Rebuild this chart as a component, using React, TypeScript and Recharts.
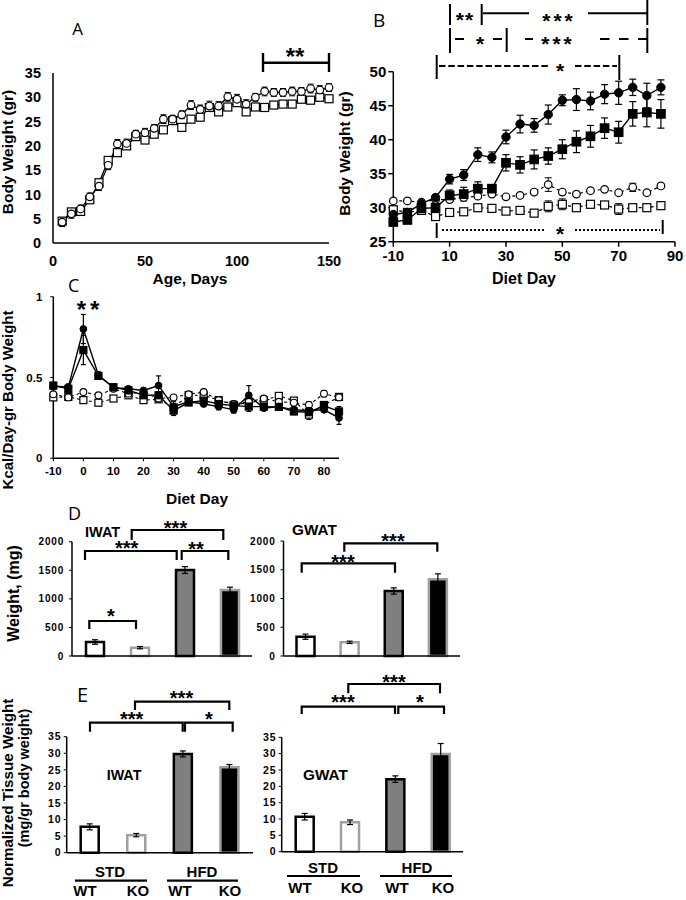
import React from 'react';
import { LineChart, Line, XAxis, YAxis, ErrorBar, BarChart, Bar, Cell } from 'recharts';

const SANS = '"Liberation Sans", Arial, sans-serif';
const LETTER = '"Open Sans", "Liberation Sans", sans-serif';

// ---------------- Panel A: body weight vs age (STD diet) ----------------
const ageDays = [5, 10, 15, 20, 25, 30, 35, 40, 45, 50, 55, 60, 65, 70, 75, 80, 85, 90, 95, 100, 105, 110, 115, 120, 125, 130, 135, 140, 145, 150];
const ageWT = [4.3, 6.0, 7.0, 9.5, 11.7, 16.0, 20.4, 20.5, 22.4, 22.7, 23.6, 25.5, 25.5, 26.4, 28.4, 27.5, 28.2, 28.2, 30.1, 29.6, 28.6, 30.0, 31.2, 31.0, 31.0, 31.2, 31.2, 31.8, 31.5, 32.0];
const ageWTErr = [0.9, 0.9, 0.8, 0.8, 0.9, 0.9, 0.9, 0.9, 0.8, 0.9, 0.8, 0.9, 0.8, 0.8, 0.9, 0.9, 1.0, 0.9, 0.9, 1.0, 0.9, 0.8, 0.9, 0.8, 0.8, 0.9, 0.8, 0.9, 0.9, 0.8];
const ageKO = [4.5, 6.4, 6.5, 8.9, 12.4, 17.0, 18.6, 20.0, 21.9, 21.2, 22.4, 23.3, 25.2, 23.8, 25.5, 25.9, 27.9, 27.0, 28.0, 28.9, 27.0, 28.0, 27.9, 28.4, 28.6, 28.6, 29.6, 29.4, 30.0, 29.7];
const ageKOErr = [0.6, 0.5, 0.5, 0.5, 0.6, 0.6, 0.6, 0.6, 0.5, 0.5, 0.5, 0.5, 0.5, 0.5, 0.5, 0.5, 0.6, 0.5, 0.5, 0.6, 0.5, 0.4, 0.4, 0.4, 0.4, 0.4, 0.4, 0.4, 0.4, 0.4];
const aTicksX = [0, 50, 100, 150];
const aTicksY = [0, 5, 10, 15, 20, 25, 30, 35];

// ---------------- Panel B: body weight vs diet day ----------------
const dietDays = [-10, -5, 0, 5, 10, 15, 20, 25, 30, 35, 40, 45, 50, 55, 60, 65, 70, 75, 80, 85];
const bwHfdWT = [29.0, 29.3, 30.6, 31.5, 34.2, 34.8, 37.8, 37.4, 40.4, 42.3, 42.1, 43.7, 45.8, 45.9, 45.7, 46.7, 46.9, 47.7, 46.5, 47.7];
const bwHfdWTErr = [0.5, 0.5, 0.5, 0.4, 0.7, 0.8, 1.0, 0.8, 1.0, 1.3, 1.0, 1.4, 0.8, 1.6, 1.3, 1.4, 1.7, 1.2, 1.8, 1.1];
const bwHfdKO = [27.9, 28.2, 29.9, 30.0, 31.8, 32.0, 32.8, 32.8, 36.6, 36.3, 37.1, 37.6, 38.6, 39.7, 40.5, 41.7, 41.1, 43.8, 44.0, 43.8];
const bwHfdKOErr = [0.4, 0.5, 0.5, 0.4, 0.8, 1.0, 1.0, 0.5, 1.2, 1.2, 1.4, 1.2, 1.4, 1.6, 1.6, 1.5, 1.6, 1.8, 2.1, 2.1];
const bwStdWT = [31.0, 31.0, 30.8, 31.2, 31.2, 31.5, 31.7, 32.0, 31.6, 31.8, 32.3, 33.4, 32.3, 32.0, 32.5, 32.7, 32.2, 33.0, 32.2, 33.2];
const bwStdWTErr = [0.3, 0.3, 0.3, 0.3, 0.3, 0.3, 0.3, 0.3, 0.3, 0.3, 0.3, 1.0, 0.3, 0.3, 0.3, 0.3, 0.3, 0.6, 0.3, 0.3];
const bwStdKO = [29.7, 29.3, 29.6, 28.7, 29.3, 29.4, 30.0, 29.9, 29.5, 29.6, 29.2, 30.2, 30.5, 30.0, 30.5, 30.4, 29.8, 30.0, 30.0, 30.3];
const bwStdKOErr = [0.4, 0.4, 0.4, 0.4, 0.4, 0.4, 0.4, 0.5, 0.4, 0.4, 0.4, 0.8, 0.8, 0.4, 0.4, 0.4, 0.8, 0.4, 0.4, 0.4];
const bTicksX = [-10, 10, 30, 50, 70, 90];
const bTicksY = [25, 30, 35, 40, 45, 50];

// ---------------- Panel C: kcal / day / gr body weight ----------------
const kcalHfdWT = [0.447, 0.44, 0.80, 0.515, 0.437, 0.43, 0.42, 0.45, 0.32, 0.35, 0.336, 0.32, 0.30, 0.39, 0.31, 0.32, 0.30, 0.295, 0.30, 0.25];
const kcalHfdWTErr = [0.02, 0.02, 0.09, 0.02, 0.01, 0.01, 0.01, 0.06, 0.03, 0.01, 0.01, 0.02, 0.02, 0.06, 0.01, 0.01, 0.02, 0.02, 0.01, 0.04];
const kcalHfdKO = [0.45, 0.43, 0.67, 0.51, 0.44, 0.42, 0.39, 0.39, 0.295, 0.345, 0.357, 0.336, 0.326, 0.32, 0.32, 0.318, 0.29, 0.285, 0.325, 0.29];
const kcalHfdKOErr = [0.02, 0.02, 0.09, 0.02, 0.01, 0.01, 0.01, 0.02, 0.03, 0.01, 0.01, 0.02, 0.02, 0.03, 0.01, 0.01, 0.02, 0.02, 0.01, 0.03];
const kcalStdWT = [0.396, 0.377, 0.41, 0.39, 0.43, 0.40, 0.41, 0.37, 0.377, 0.396, 0.41, 0.36, 0.336, 0.35, 0.37, 0.35, 0.344, 0.33, 0.40, 0.377];
const kcalStdWTErr = [0.01, 0.02, 0.01, 0.01, 0.01, 0.01, 0.01, 0.02, 0.01, 0.01, 0.01, 0.01, 0.02, 0.01, 0.01, 0.01, 0.01, 0.02, 0.02, 0.02];
const kcalStdKO = [0.377, 0.38, 0.36, 0.344, 0.37, 0.39, 0.36, 0.365, 0.315, 0.39, 0.39, 0.36, 0.33, 0.344, 0.36, 0.386, 0.357, 0.27, 0.33, 0.38];
const kcalStdKOErr = [0.01, 0.02, 0.01, 0.01, 0.01, 0.01, 0.01, 0.01, 0.02, 0.01, 0.01, 0.01, 0.01, 0.02, 0.01, 0.01, 0.01, 0.03, 0.01, 0.02];
const cTicksX = [-10, 0, 10, 20, 30, 40, 50, 60, 70, 80];
const cTicksY = [0, 0.5, 1];

// ---------------- Panels D / E: fat pads ----------------
const groups = ['STD WT', 'STD KO', 'HFD WT', 'HFD KO'];
const iwatMg = [245, 146, 1504, 1154];
const iwatMgErr = [40, 20, 60, 50];
const gwatMg = [336, 238, 1131, 1334];
const gwatMgErr = [45, 20, 55, 95];
const iwatNorm = [7.8, 5.3, 29.8, 25.8];
const iwatNormErr = [0.9, 0.5, 0.9, 0.8];
const gwatNorm = [10.7, 9.0, 22.2, 29.9];
const gwatNormErr = [1.0, 0.7, 1.0, 3.2];
const dTicksY = [0, 500, 1000, 1500, 2000];
const eTicksY = [0, 5, 10, 15, 20, 25, 30, 35];

const barFill = ['#ffffff', '#ffffff', '#7f7f7f', '#000000'];
const barStroke = ['#000000', '#a0a0a0', '#000000', '#a0a0a0'];

const axisLine = { stroke: '#000', strokeWidth: 1.5 };
const tickFont = (size: number, extra: any = {}) => ({ fontFamily: SANS, fontWeight: 700, fontSize: size, fill: '#000', ...extra });

const openCircle = { r: 3.8, fill: '#fff', stroke: '#000', strokeWidth: 1.2, strokeDasharray: 'none' };
const filledCircle = { r: 4.2, fill: '#000', stroke: '#000', strokeWidth: 1, strokeDasharray: 'none' };
const smallFilledCircle = { r: 3.4, fill: '#000', stroke: '#000', strokeWidth: 1, strokeDasharray: 'none' };
const smallOpenCircle = { r: 3.4, fill: '#fff', stroke: '#000', strokeWidth: 1.1, strokeDasharray: 'none' };

const square = (fill: string, size: number) => (props: any) => {
  const { cx, cy, index } = props;
  if (cx == null || cy == null) return <g key={`e-${index}`} />;
  return (
    <rect key={`sq-${index}`} x={cx - size / 2} y={cy - size / 2} width={size} height={size}
      fill={fill} stroke="#000" strokeWidth={1.2} strokeDasharray="none" />
  );
};

const aRows = ageDays.map((d, i) => ({ day: d, wt: ageWT[i], wtErr: ageWTErr[i], ko: ageKO[i], koErr: ageKOErr[i] }));
const bRows = dietDays.map((d, i) => ({
  day: d, hwt: bwHfdWT[i], hwtE: bwHfdWTErr[i], hko: bwHfdKO[i], hkoE: bwHfdKOErr[i],
  swt: bwStdWT[i], swtE: bwStdWTErr[i], sko: bwStdKO[i], skoE: bwStdKOErr[i],
}));
const cRows = dietDays.map((d, i) => ({
  day: d, hwt: kcalHfdWT[i], hwtE: kcalHfdWTErr[i], hko: kcalHfdKO[i], hkoE: kcalHfdKOErr[i],
  swt: kcalStdWT[i], swtE: kcalStdWTErr[i], sko: kcalStdKO[i], skoE: kcalStdKOErr[i],
}));

function Abs({ left, top, children }: any) {
  return <div style={{ position: 'absolute', left, top }}>{children}</div>;
}

function BarPanel({ left, top, width, height, margin, yWidth, values, errors, domainMax, ticks, fontSize, tickMargin, letterSpacing }: any) {
  const rows = groups.map((g, i) => ({ group: g, value: values[i], err: errors[i] }));
  return (
    <Abs left={left} top={top}>
      <BarChart width={width} height={height} data={rows} margin={margin}>
        <XAxis dataKey="group" type="category" tick={false} tickLine={false} axisLine={axisLine} height={10} />
        <YAxis type="number" domain={[0, domainMax]} ticks={ticks} width={yWidth} interval={0}
          tickSize={3} tickMargin={tickMargin} axisLine={axisLine} tickLine={{ stroke: '#000' }}
          tick={tickFont(fontSize, { letterSpacing })} />
        <Bar dataKey="value" barSize={18} isAnimationActive={false}>
          {rows.map((r, i) => (
            <Cell key={r.group} fill={barFill[i]} stroke={barStroke[i]} strokeWidth={2.5} />
          ))}
          <ErrorBar dataKey="err" width={3} stroke="#000" strokeWidth={1.2} direction="y" />
        </Bar>
      </BarChart>
    </Abs>
  );
}

// text helpers (overlay)
function Txt({ x, y, size = 15, anchor = 'middle', rotate = false, font = SANS, weight = 700, children }: any) {
  return (
    <text x={x} y={y} fontFamily={font} fontWeight={weight} fontSize={size} textAnchor={anchor}
      fill="#000" transform={rotate ? `rotate(-90 ${x} ${y})` : undefined}>{children}</text>
  );
}
function Stars({ cx, cy, size = 20, spacing = 0, children }: any) {
  return (
    <text x={cx} y={cy + 0.57 * size} fontFamily={SANS} fontWeight={700} fontSize={size}
      textAnchor="middle" letterSpacing={spacing} fill="#000">{children}</text>
  );
}
function Bracket({ x1, x2, y, h }: any) {
  return <path d={`M${x1} ${y + h} V${y} H${x2} V${y + h}`} fill="none" stroke="#000" strokeWidth={2.2} />;
}
function Seg({ x1, x2, y1, y2, dash, w = 2 }: any) {
  return <line x1={x1} x2={x2} y1={y1} y2={y2} stroke="#000" strokeWidth={w} strokeDasharray={dash} />;
}

export default function App() {
  return (
    <div style={{ position: 'absolute', left: 0, top: 0, width: 686, height: 900, background: '#fff', overflow: 'hidden' }}>
      {/* Panel A */}
      <Abs left={0} top={40}>
        <LineChart width={345} height={240} data={aRows} margin={{ top: 33, right: 16, bottom: 7, left: 0 }}>
          <XAxis dataKey="day" type="number" domain={[0, 150]} ticks={aTicksX} interval={0} height={30}
            tickLine={false} tickSize={6} tickMargin={7} axisLine={axisLine} tick={tickFont(14.5)} />
          <YAxis type="number" domain={[0, 35]} ticks={aTicksY} interval={0} width={53}
            tickLine={false} tickSize={6} tickMargin={6} axisLine={axisLine} tick={tickFont(14.5)} />
          <Line dataKey="ko" stroke="#000" strokeWidth={1.3} dot={square('#fff', 8)} activeDot={false} isAnimationActive={false}>
            <ErrorBar dataKey="koErr" width={3} stroke="#000" strokeWidth={1} direction="y" />
          </Line>
          <Line dataKey="wt" stroke="#000" strokeWidth={1.3} dot={openCircle} activeDot={false} isAnimationActive={false}>
            <ErrorBar dataKey="wtErr" width={3} stroke="#000" strokeWidth={1} direction="y" />
          </Line>
        </LineChart>
      </Abs>

      {/* Panel B */}
      <Abs left={340} top={0}>
        <LineChart width={346} height={290} data={bRows} margin={{ top: 71.7, right: 11, bottom: 18.3, left: 0 }}>
          <XAxis dataKey="day" type="number" domain={[-10, 90]} ticks={bTicksX} interval={0} height={30}
            tickSize={5} tickMargin={4} axisLine={axisLine} tickLine={{ stroke: '#000', strokeWidth: 1.5 }} tick={tickFont(15)} />
          <YAxis type="number" domain={[25, 50]} ticks={bTicksY} interval={0} width={53.3}
            tickSize={5} tickMargin={2} axisLine={axisLine} tickLine={{ stroke: '#000', strokeWidth: 1.5 }} tick={tickFont(15)} />
          <Line dataKey="sko" stroke="#000" strokeWidth={1.2} strokeDasharray="3 3" dot={square('#fff', 8)} activeDot={false} isAnimationActive={false}>
            <ErrorBar dataKey="skoE" width={3.5} stroke="#000" strokeWidth={1} direction="y" />
          </Line>
          <Line dataKey="swt" stroke="#000" strokeWidth={1.2} strokeDasharray="3 3" dot={openCircle} activeDot={false} isAnimationActive={false}>
            <ErrorBar dataKey="swtE" width={3.5} stroke="#000" strokeWidth={1} direction="y" />
          </Line>
          <Line dataKey="hko" stroke="#000" strokeWidth={1.4} dot={square('#000', 8.5)} activeDot={false} isAnimationActive={false}>
            <ErrorBar dataKey="hkoE" width={3.5} stroke="#000" strokeWidth={1.2} direction="y" />
          </Line>
          <Line dataKey="hwt" stroke="#000" strokeWidth={1.4} dot={filledCircle} activeDot={false} isAnimationActive={false}>
            <ErrorBar dataKey="hwtE" width={3.5} stroke="#000" strokeWidth={1.2} direction="y" />
          </Line>
        </LineChart>
      </Abs>

      {/* Panel C */}
      <Abs left={0} top={280}>
        <LineChart width={345} height={200} data={cRows} margin={{ top: 16.7, right: 6, bottom: 1.7, left: 0 }}>
          <XAxis dataKey="day" type="number" domain={[-10, 85]} ticks={cTicksX} interval={0} height={20}
            tickSize={3} tickMargin={6} axisLine={axisLine} tickLine={{ stroke: '#000' }} tick={tickFont(11.5)} />
          <YAxis type="number" domain={[0, 1]} ticks={cTicksY} interval={0} width={53.3}
            tickSize={3} tickMargin={8} axisLine={axisLine} tickLine={{ stroke: '#000' }} tick={tickFont(11.5)} />
          <Line dataKey="sko" stroke="#000" strokeWidth={1.1} strokeDasharray="3 3" dot={square('#fff', 7)} activeDot={false} isAnimationActive={false}>
            <ErrorBar dataKey="skoE" width={2.5} stroke="#000" strokeWidth={1} direction="y" />
          </Line>
          <Line dataKey="swt" stroke="#000" strokeWidth={1.1} strokeDasharray="3 3" dot={smallOpenCircle} activeDot={false} isAnimationActive={false}>
            <ErrorBar dataKey="swtE" width={2.5} stroke="#000" strokeWidth={1} direction="y" />
          </Line>
          <Line dataKey="hko" stroke="#000" strokeWidth={1.4} dot={square('#000', 7)} activeDot={false} isAnimationActive={false}>
            <ErrorBar dataKey="hkoE" width={2.5} stroke="#000" strokeWidth={1.2} direction="y" />
          </Line>
          <Line dataKey="hwt" stroke="#000" strokeWidth={1.4} dot={smallFilledCircle} activeDot={false} isAnimationActive={false}>
            <ErrorBar dataKey="hwtE" width={2.5} stroke="#000" strokeWidth={1.2} direction="y" />
          </Line>
        </LineChart>
      </Abs>

      {/* Panel D */}
      <BarPanel left={0} top={500} width={260} height={170} margin={{ top: 41.7, right: 8, bottom: 4, left: 0 }}
        yWidth={72} values={iwatMg} errors={iwatMgErr} domainMax={2000} ticks={dTicksY} fontSize={10} tickMargin={5} letterSpacing={0.8} />
      <BarPanel left={220} top={500} width={250} height={170} margin={{ top: 41, right: 10, bottom: 4, left: 0 }}
        yWidth={63.5} values={gwatMg} errors={gwatMgErr} domainMax={2000} ticks={dTicksY} fontSize={10} tickMargin={5} letterSpacing={0.8} />

      {/* Panel E */}
      <BarPanel left={0} top={690} width={260} height={180} margin={{ top: 46.7, right: 7, bottom: 7.3, left: 0 }}
        yWidth={66.7} values={iwatNorm} errors={iwatNormErr} domainMax={35} ticks={eTicksY} fontSize={10.5} tickMargin={2} letterSpacing={1} />
      <BarPanel left={220} top={690} width={250} height={180} margin={{ top: 47.3, right: 7, bottom: 8.3, left: 0 }}
        yWidth={61.7} values={gwatNorm} errors={gwatNormErr} domainMax={35} ticks={eTicksY} fontSize={10.5} tickMargin={2} letterSpacing={1} />

      {/* Overlay: titles, labels, significance marks */}
      <svg width={686} height={900} style={{ position: 'absolute', left: 0, top: 0, pointerEvents: 'none' }}>
        {/* panel letters */}
        <Txt x={77.5} y={35} size={17} font={LETTER} weight={400}>A</Txt>
        <Txt x={373} y={27} size={19} font={LETTER} weight={400} anchor="start">B</Txt>
        <Txt x={68} y={292} size={18} font={LETTER} weight={400} anchor="start">C</Txt>
        <Txt x={68} y={520} size={18} font={LETTER} weight={400} anchor="start">D</Txt>
        <Txt x={77} y={702} size={20} font={LETTER} weight={400} anchor="start">E</Txt>

        {/* Panel A labels */}
        <Txt x={13} y={152} size={15.5} rotate>Body Weight (gr)</Txt>
        <Txt x={190} y={284} size={15.5}>Age, Days</Txt>
        <Seg x1={263} x2={329} y1={62.7} y2={62.7} w={2.4} />
        <Seg x1={263} x2={263} y1={53} y2={72} w={2.4} />
        <Seg x1={329} x2={329} y1={53} y2={72} w={2.4} />
        <Stars cx={295} cy={51} size={24}>**</Stars>

        {/* Panel B labels */}
        <Txt x={350} y={153.5} size={15.5} rotate>Body Weight (gr)</Txt>
        <Txt x={524} y={284} size={16}>Diet Day</Txt>
        {/* row 1 */}
        <Seg x1={450} x2={450} y1={4} y2={25} />
        <Seg x1={481.7} x2={481.7} y1={4} y2={25} />
        <Seg x1={647.3} x2={647.3} y1={0} y2={25} />
        <Stars cx={465} cy={15} size={21} spacing={1}>**</Stars>
        <Seg x1={483} x2={529} y1={13.3} y2={13.3} />
        <Seg x1={588} x2={647} y1={13.3} y2={13.3} />
        <Stars cx={559} cy={16} size={21} spacing={3}>***</Stars>
        {/* row 2 */}
        <Seg x1={450} x2={450} y1={28} y2={53} />
        <Seg x1={506.7} x2={506.7} y1={28} y2={52} />
        <Seg x1={647.3} x2={647.3} y1={28} y2={53} />
        <Seg x1={455} x2={464} y1={39} y2={39} />
        <Stars cx={480} cy={39} size={21}>*</Stars>
        <Seg x1={493} x2={502} y1={39} y2={39} />
        <Seg x1={525} x2={533} y1={39} y2={39} />
        <Stars cx={558} cy={39} size={21} spacing={3}>***</Stars>
        <Seg x1={600} x2={647} y1={39} y2={39} dash="9.5 9.5" />
        {/* row 3 */}
        <Seg x1={436.7} x2={436.7} y1={55} y2={79} />
        <Seg x1={619.3} x2={619.3} y1={55} y2={80} />
        <Seg x1={439} x2={548} y1={66} y2={66} dash="6.5 2.8" />
        <Stars cx={560} cy={66} size={21}>*</Stars>
        <Seg x1={575} x2={617} y1={66} y2={66} dash="6.5 2.8" />
        {/* bottom row */}
        <Seg x1={436.7} x2={436.7} y1={223} y2={238} />
        <Seg x1={662.7} x2={662.7} y1={220} y2={234} />
        <Seg x1={442} x2={544} y1={230} y2={230} dash="2 2" />
        <Stars cx={560} cy={229} size={21}>*</Stars>
        <Seg x1={575} x2={660} y1={230} y2={230} dash="2 2" />

        {/* Panel C labels */}
        <Txt x={13} y={400} size={15} rotate>Kcal/Day-gr Body Weight</Txt>
        <Txt x={197} y={503.5} size={15.5}>Diet Day</Txt>
        <Stars cx={90} cy={304} size={24} spacing={4}>**</Stars>

        {/* Panel D labels */}
        <Txt x={18.5} y={593.5} size={16} rotate>Weight, (mg)</Txt>
        <Txt x={85} y={537} size={14.5} anchor="start">IWAT</Txt>
        <Txt x={292} y={535} size={15.3} anchor="start">GWAT</Txt>
        <Bracket x1={131.7} x2={223.3} y={530} h={10} />
        <Stars cx={175.5} cy={524} size={20}>***</Stars>
        <Bracket x1={85} x2={176.7} y={551} h={9} />
        <Stars cx={126.7} cy={544} size={20}>***</Stars>
        <Bracket x1={181.7} x2={228.3} y={551} h={9} />
        <Stars cx={196} cy={545} size={20}>**</Stars>
        <Bracket x1={89.3} x2={136} y={621} h={8} />
        <Stars cx={111} cy={611.5} size={20}>*</Stars>
        <Bracket x1={344.3} x2={437.3} y={543.3} h={8.4} />
        <Stars cx={393} cy={537} size={20}>***</Stars>
        <Bracket x1={301.7} x2={395} y={563.3} h={9.4} />
        <Stars cx={343} cy={558} size={20}>***</Stars>

        {/* Panel E labels */}
        <Txt x={13} y={793} size={15.2} rotate>Normalized Tissue Weight</Txt>
        <Txt x={28.5} y={778} size={14.5} rotate>(mg/gr body weight)</Txt>
        <Txt x={106.7} y={780} size={14.3} anchor="start">IWAT</Txt>
        <Txt x={303} y={780} size={15.3} anchor="start">GWAT</Txt>
        <Bracket x1={135} x2={229.3} y={701.7} h={8.3} />
        <Stars cx={181.5} cy={693.5} size={20}>***</Stars>
        <Bracket x1={90} x2={182.7} y={722.7} h={9} />
        <Stars cx={131.7} cy={715} size={20}>***</Stars>
        <Bracket x1={185} x2={232.7} y={722.7} h={9} />
        <Stars cx={209} cy={715} size={20}>*</Stars>
        <Bracket x1={348.3} x2={440} y={684} h={9.3} />
        <Stars cx={394} cy={678} size={20}>***</Stars>
        <Bracket x1={301.7} x2={395} y={706.7} h={7.3} />
        <Stars cx={343} cy={698} size={20}>***</Stars>
        <Bracket x1={398.3} x2={444} y={706.7} h={7.3} />
        <Stars cx={420} cy={698} size={20}>*</Stars>

        {/* group labels under E */}
        <Txt x={110} y={877} size={15}>STD</Txt>
        <Seg x1={75} x2={147} y1={880.7} y2={880.7} w={2.2} />
        <Txt x={85} y={896} size={15}>WT</Txt>
        <Txt x={138} y={896} size={15}>KO</Txt>
        <Txt x={202} y={877} size={15}>HFD</Txt>
        <Seg x1={167} x2={238} y1={880.7} y2={880.7} w={2.2} />
        <Txt x={180} y={896} size={15}>WT</Txt>
        <Txt x={230} y={896} size={15}>KO</Txt>

        <Txt x={323} y={873} size={15}>STD</Txt>
        <Seg x1={287} x2={360} y1={876} y2={876} w={2.2} />
        <Txt x={300} y={893} size={15}>WT</Txt>
        <Txt x={352} y={893} size={15}>KO</Txt>
        <Txt x={417} y={873} size={15}>HFD</Txt>
        <Seg x1={380} x2={452} y1={876} y2={876} w={2.2} />
        <Txt x={397} y={893} size={15}>WT</Txt>
        <Txt x={443} y={893} size={15}>KO</Txt>
      </svg>
    </div>
  );
}
